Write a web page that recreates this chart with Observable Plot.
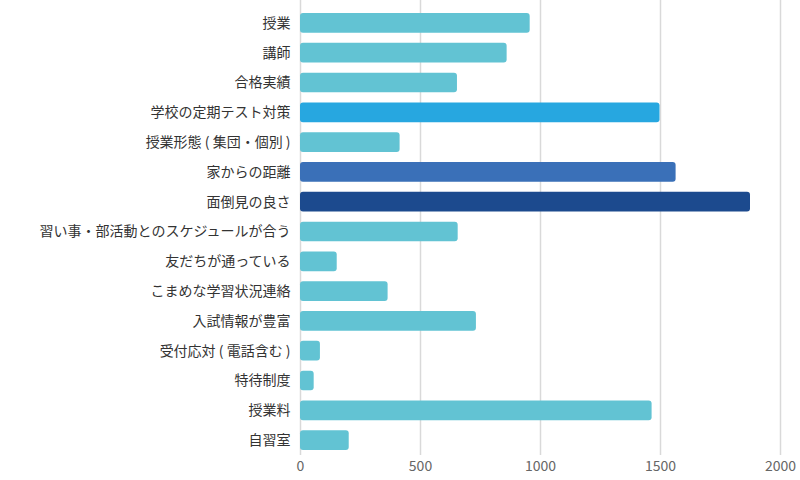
<!DOCTYPE html>
<html>
<head>
<meta charset="utf-8">
<script src="https://cdn.jsdelivr.net/npm/d3@7"></script>
<script src="https://cdn.jsdelivr.net/npm/@observablehq/plot@0.6"></script>
<style>
  html, body { margin: 0; padding: 0; background: #fff; }
  #chart svg { display: block; }
</style>
</head>
<body>
<div id="chart"></div>
<script>
const categories = [
  "授業", "講師", "合格実績", "学校の定期テスト対策", "授業形態 ( 集団・個別 )",
  "家からの距離", "面倒見の良さ", "習い事・部活動とのスケジュールが合う",
  "友だちが通っている", "こまめな学習状況連絡", "入試情報が豊富",
  "受付応対 ( 電話含む )", "特待制度", "授業料", "自習室"
];
const values = [957, 861, 654, 1498, 415, 1565, 1875, 657, 153, 365, 733, 83, 57, 1465, 203];
const xTicks = [0, 500, 1000, 1500, 2000];
const barColors = [
  "#62c3d3", "#62c3d3", "#62c3d3", "#27a7e0", "#62c3d3",
  "#3a70b8", "#1c4a8e", "#62c3d3", "#62c3d3", "#62c3d3",
  "#62c3d3", "#62c3d3", "#62c3d3", "#62c3d3", "#62c3d3"
];

const data = categories.map((c, i) => ({category: c, value: values[i]}));

const chart = Plot.plot({
  width: 800,
  height: 480,
  marginLeft: 300,
  marginRight: 20,
  marginTop: 8,
  marginBottom: 25,
  style: {fontFamily: "'Noto Sans CJK JP', 'Noto Sans', sans-serif", fontSize: "14px", color: "#333", background: "#fff"},
  x: {domain: [0, 2000], ticks: xTicks, label: null},
  y: {domain: categories, paddingInner: 0.34, paddingOuter: 0.17, round: false, label: null},
  color: {type: "ordinal", domain: categories, range: barColors},
  marks: [
    Plot.gridX(xTicks, {stroke: "#d9d9d9", strokeOpacity: 1, strokeWidth: 1.5, insetTop: -8}),
    Plot.barX(data, {y: "category", x: "value", fill: "category", rx: 3}),
    Plot.axisY({tickSize: 0, tickPadding: 10, fontSize: 14, fill: "#333", label: null}),
    Plot.axisX({ticks: xTicks, tickSize: 0, tickPadding: 6, fontSize: 14, fill: "#666", label: null, tickFormat: d => String(d)})
  ]
});
document.getElementById("chart").appendChild(chart);
</script>
</body>
</html>
